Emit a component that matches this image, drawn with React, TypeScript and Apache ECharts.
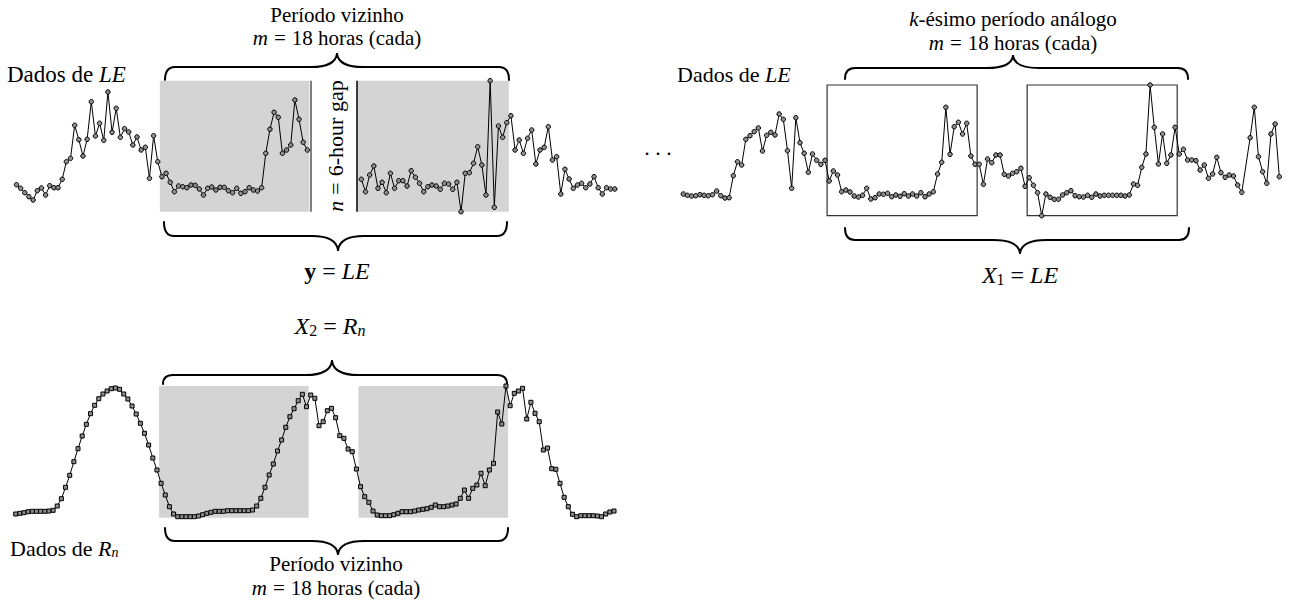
import { useEffect, useRef } from 'react';
import * as echarts from 'echarts';

// Série de LE (passo de 30 min): dados do período de referência
const LE_BEFORE = [27, 23.4, 19, 15, 11.7, 21, 23.7, 16.7, 26, 24, 24, 32.4, 50, 53.4, 86.4, 72, 55.7, 72.4, 110, 75.7, 88.4, 71.4, 119.7, 79.4, 103.4, 74.4, 83, 79.7, 66.7, 74.7, 61.7, 64.4, 33.4, 76, 50];
const LE_NEIGHBOR_1 = [35, 38.4, 29.4, 20, 25.7, 25, 24, 26.7, 26.4, 22.7, 16.7, 23.4, 24.7, 21.7, 24.4, 24.4, 21, 19, 23.4, 18.4, 20, 24, 21.7, 20.7, 24, 58.4, 82.4, 99.4, 94.4, 58.4, 61.7, 66.7, 111.7, 92.4, 69.4, 61.7];
const LE_NEIGHBOR_2 = [32.4, 20, 36.7, 45.7, 23.4, 29.4, 19, 38.4, 23.4, 31, 31, 25.7, 41, 34.4, 28.4, 20, 25, 26.7, 25.7, 22.4, 28.4, 27.7, 22.4, 29.4, 0, 38.4, 39, 48.4, 65, 46.7, 16.7, 131, 4.4, 85.7, 74.4, 89];
const LE_AFTER = [96, 61.7, 71.7, 58.4, 73.4, 81.7, 47.7, 61.7, 64.4, 85, 51.7, 55, 17.7, 42.4, 32.7, 23.4, 26.7, 28.4, 24, 27.7, 35, 24, 17.7, 24, 22.7, 22.7];

// Série de LE: k-ésimo período análogo (null = sem registro)
const LE_ANALOG_PRE = [21.7, 20.4, 19.7, 20, 21, 20.4, 20, 21, 24.7, 20, 17.7, 18, 40, 54, 50.7, 76.4, 80, 84, 87.7, 64.7, 80.4, 83.4, 80.7, 101.7, 96.4, 65, 27.4, 98, 73, 62.4, 43.4, 61.7, 55.4, 51.4, 55.4];
const LE_ANALOG_1 = [34.7, 44.7, 40.7, 24, 25.7, 23.7, 19.7, 18.7, 20.4, 27.4, 16.7, 18, 21.7, 21.4, 22.4, 19, 20.7, 19.4, 22, 19.7, 21.7, 19.7, 23, 19, 21.7, 24, 41.7, 53.4, 108.4, 61.4, 89, 93.4, 81.7, 92.4, 59.7, 51.4];
const LE_ANALOG_GAP = [51.4, 31.4, 56.7, 53, 60.7, 60.7, 41.4, 39.7, 42.4, 44, 47.4, 29.4];
const LE_ANALOG_2 = [38, 30.4, 23, 0, 21.7, 18.4, 16.4, 16.4, 20.7, 23, 25, 20, 19, 18.7, 20.4, 18.4, 21.7, 19.7, 20.4, 20.4, 20.4, 20.4, 20.4, 19.7, 20.7, 31.7, 30.4, 48.4, 61.7, 130.7, 88.4, 51.7, 81.7, 52.4, 60.7, 88.4];
const LE_ANALOG_POST = [61.7, 66.4, 55.7, 55.7, 55, 45.7, 50.7, 37.4, 41.7, 58.4, 43, 38.4, 40.7, 39.7, 30.7, 23.4, null, 78, 108.4, 59, 44, 32.4, 81.7, 91.7, 39];

// Série de Rn (passo de 30 min)
const RN_PRE = [3.7, 4.4, 5, 6, 6.4, 6.4, 6.4, 6.4, 6.7, 7.4, 11.7, 19, 30.4, 42.4, 56, 69, 81.7, 93.4, 104, 112.4, 119, 123.7, 126.7, 129, 129.7, 128.4, 123.7, 118.7, 111.7, 103.7, 94.4, 84.4, 72.7, 59.7, 47.7];
const RN_1 = [34.4, 22.7, 11, 3.7, 1, 1, 1, 1, 1, 1.7, 3, 4.4, 5.4, 6.4, 6.4, 6.4, 7, 7, 7, 7, 7, 7, 7.7, 11.7, 19.4, 30.4, 42.7, 53.7, 66.7, 77.7, 90.4, 101, 109, 117, 123.4, 111];
const RN_GAP = [122.7, 119.4, 92, 96, 107, 109.4, 100, 82, 79.4, 68.7, 66, 48.7];
const RN_2 = [31, 21, 15.4, 6.7, 2.7, 2, 2, 2, 3, 4.4, 6, 6, 6, 6.7, 7.7, 8.4, 9, 10.4, 12.7, 11, 11, 11.7, 12.7, 13.7, 19.4, 27.7, 19.4, 29.4, 32.7, 44.4, 32, 47.7, 54.4, 105.7, 93.7, 131.7];
const RN_POST = [112, 124.4, 126.7, 129.4, 98.7, 115.4, 104.4, 96, 67.7, 69.7, 49, 48.4, 34.4, 20.4, 11, 3.4, 1, 2, 2, 2, 2, 1.7, 1, 3.7, 5.7, 6.7];

// Índices (em passos de 30 min) onde começa cada trecho
const START_1 = 35;
const START_GAP = 71;
const START_2 = 83;
const START_POST = 119;

const SERIF = "'Liberation Serif', 'Times New Roman', serif";

type Val = number | null;
const seq = (vals: Val[], start: number) =>
  vals.map((v, k) => [start + k, v] as [number, Val]).filter((p) => p[1] !== null);

function brace(xL: number, xR: number, xm: number, yEnd: number, yFlat: number, yTip: number) {
  const cw = 10;
  const tw = 26;
  const st = { stroke: '#000', lineWidth: 2, fill: 'none', lineCap: 'round' };
  return [
    { type: 'bezierCurve', shape: { x1: xL, y1: yEnd, cpx1: xL, cpy1: yFlat, x2: xL + cw, y2: yFlat }, style: st },
    { type: 'line', shape: { x1: xL + cw, y1: yFlat, x2: xm - tw, y2: yFlat }, style: st },
    { type: 'bezierCurve', shape: { x1: xm - tw, y1: yFlat, cpx1: xm - 2, cpy1: yFlat, x2: xm, y2: yTip }, style: st },
    { type: 'bezierCurve', shape: { x1: xm, y1: yTip, cpx1: xm + 2, cpy1: yFlat, x2: xm + tw, y2: yFlat }, style: st },
    { type: 'line', shape: { x1: xm + tw, y1: yFlat, x2: xR - cw, y2: yFlat }, style: st },
    { type: 'bezierCurve', shape: { x1: xR - cw, y1: yFlat, cpx1: xR, cpy1: yFlat, x2: xR, y2: yEnd }, style: st },
  ];
}

const RICH = (size: number) => ({
  i: { fontStyle: 'italic', fontSize: size, fontFamily: SERIF, fill: '#000' },
  b: { fontWeight: 'bold', fontSize: size, fontFamily: SERIF, fill: '#000' },
  eq: { fontSize: size, fontFamily: SERIF, fill: '#000', padding: [0, 6, 0, 6] },
  sub: { fontSize: Math.round(size * 0.65), fontFamily: SERIF, fill: '#000', verticalAlign: 'bottom' },
  subi: { fontSize: Math.round(size * 0.65), fontStyle: 'italic', fontFamily: SERIF, fill: '#000', verticalAlign: 'bottom' },
});

function label(text: string, x: number, y: number, size: number, align = 'center', rotation = 0) {
  return {
    type: 'text',
    x,
    y,
    rotation,
    silent: true,
    style: {
      text,
      x: 0,
      y: 0,
      fontSize: size,
      fontFamily: SERIF,
      fill: '#000',
      align,
      textAlign: align,
      verticalAlign: 'middle',
      textVerticalAlign: 'middle',
      rich: RICH(size),
    },
  };
}

const lineStyle = { color: '#000', width: 1 };
const dotStyle = { color: '#8e8e8e', borderColor: '#000', borderWidth: 1 };

export default function App() {
  const ref = useRef<HTMLDivElement>(null);

  useEffect(() => {
    const chart = echarts.init(ref.current!, undefined, { renderer: 'svg' });

    const leRefA = seq(LE_BEFORE, 0).concat(seq(LE_NEIGHBOR_1, START_1));
    const leRefB = seq(LE_NEIGHBOR_2, START_2).concat(seq(LE_AFTER, START_POST));
    const leAnalog = seq(LE_ANALOG_PRE, 0)
      .concat(seq(LE_ANALOG_1, START_1))
      .concat(seq(LE_ANALOG_GAP, START_GAP))
      .concat(seq(LE_ANALOG_2, START_2))
      .concat(seq(LE_ANALOG_POST, START_POST));
    const rn = seq(RN_PRE, 0)
      .concat(seq(RN_1, START_1))
      .concat(seq(RN_GAP, START_GAP))
      .concat(seq(RN_2, START_2))
      .concat(seq(RN_POST, START_POST));

    const band = (a: number, b: number) => [{ xAxis: a }, { xAxis: b }];

    const option: any = {
      animation: false,
      backgroundColor: '#fff',
      grid: [
        { left: 16.5, top: 80.7, width: 598.3, height: 131 },
        { left: 683.3, top: 85, width: 596, height: 130.7 },
        { left: 15.7, top: 386, width: 598.3, height: 131.7 },
      ],
      xAxis: [
        { type: 'value', gridIndex: 0, min: 0, max: 144, show: false },
        { type: 'value', gridIndex: 1, min: 0, max: 143, show: false },
        { type: 'value', gridIndex: 2, min: 0, max: 144, show: false },
      ],
      yAxis: [
        { type: 'value', gridIndex: 0, min: 0, max: 131, show: false },
        { type: 'value', gridIndex: 1, min: 0, max: 130.7, show: false },
        { type: 'value', gridIndex: 2, min: 0, max: 131.7, show: false },
      ],
      series: [
        {
          type: 'line',
          xAxisIndex: 0,
          yAxisIndex: 0,
          data: leRefA,
          silent: true,
          symbol: 'circle',
          symbolSize: 4.5,
          showAllSymbol: true,
          lineStyle,
          itemStyle: dotStyle,
          markArea: {
            silent: true,
            itemStyle: { color: '#d4d4d4' },
            data: [band(START_1 - 0.5, START_GAP - 0.5)],
          },
          markLine: {
            silent: true,
            symbol: ['none', 'none'],
            label: { show: false },
            data: [{ xAxis: START_GAP - 0.2, lineStyle: { color: '#555', width: 1.5, type: 'solid' } }],
          },
        },
        {
          type: 'line',
          xAxisIndex: 0,
          yAxisIndex: 0,
          data: leRefB,
          silent: true,
          symbol: 'circle',
          symbolSize: 4.5,
          showAllSymbol: true,
          lineStyle,
          itemStyle: dotStyle,
          markArea: {
            silent: true,
            itemStyle: { color: '#d4d4d4' },
            data: [band(START_2 - 1, START_POST - 0.5)],
          },
          markLine: {
            silent: true,
            symbol: ['none', 'none'],
            label: { show: false },
            data: [{ xAxis: START_2 - 1, lineStyle: { color: '#000', width: 1.5, type: 'solid' } }],
          },
        },
        {
          type: 'line',
          xAxisIndex: 1,
          yAxisIndex: 1,
          data: leAnalog,
          silent: true,
          symbol: 'circle',
          symbolSize: 4.5,
          showAllSymbol: true,
          lineStyle,
          itemStyle: dotStyle,
          markArea: {
            silent: true,
            itemStyle: { color: 'rgba(0,0,0,0)', borderColor: '#333', borderWidth: 1.2 },
            data: [band(START_1 - 0.5, START_GAP - 0.5), band(START_2 - 0.5, START_POST - 0.5)],
          },
        },
        {
          type: 'line',
          xAxisIndex: 2,
          yAxisIndex: 2,
          data: rn,
          silent: true,
          symbol: 'rect',
          symbolSize: 4,
          showAllSymbol: true,
          lineStyle,
          itemStyle: dotStyle,
          markArea: {
            silent: true,
            itemStyle: { color: '#d4d4d4' },
            data: [band(START_1 - 0.5, START_GAP - 0.5), band(START_2 - 0.5, START_POST - 0.5)],
          },
        },
      ],
      graphic: [
        // painel LE (período vizinho)
        label('Período vizinho', 337, 15, 21),
        label('{i|m}{eq|=}18 horas (cada)', 337, 38, 21),
        label('Dados de {i|LE}', 7, 74, 23, 'left'),
        ...brace(165, 509, 337, 80, 67, 54),
        label('{i|n}{eq|=}6-hour gap', 335, 146, 22, 'center', Math.PI / 2),
        ...brace(164, 507, 338, 222, 236, 250),
        label('{b|y}{eq|=}{i|LE}', 337, 271, 24),
        // painel LE (período análogo)
        label('. . .', 658, 147, 22),
        label('{i|k}-ésimo período análogo', 1013, 19, 21),
        label('{i|m}{eq|=}18 horas (cada)', 1013, 43, 21),
        label('Dados de {i|LE}', 677, 74, 22, 'left'),
        ...brace(845, 1188, 1013, 79, 68, 56),
        ...brace(845, 1189, 1020, 228, 240, 253),
        label('{i|X}{sub|1}{eq|=}{i|LE}', 1020, 275, 24),
        // painel Rn
        label('{i|X}{sub|2}{eq|=}{i|R}{subi|n}', 330, 326, 24),
        ...brace(163, 507, 332, 384, 375, 361),
        ...brace(165, 508, 338, 528, 541, 554),
        label('Dados de {i|R}{subi|n}', 10, 548, 22, 'left'),
        label('Período vizinho', 336, 564, 21),
        label('{i|m}{eq|=}18 horas (cada)', 336, 588, 21),
      ],
    };

    chart.setOption(option);
    return () => chart.dispose();
  }, []);

  return (
    <div
      ref={ref}
      style={{ position: 'fixed', left: 0, top: 0, width: 1293, height: 603, background: '#fff' }}
    />
  );
}
